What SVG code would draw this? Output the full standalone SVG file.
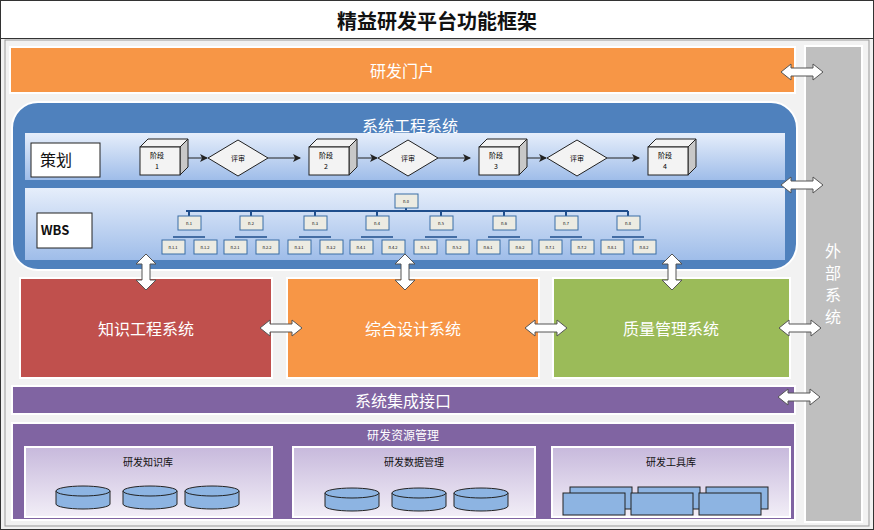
<svg xmlns="http://www.w3.org/2000/svg" width="874" height="530" viewBox="0 0 874 530">
<defs>
<style>
text{font-family:"Noto Sans CJK SC","Liberation Sans",sans-serif;text-anchor:middle;dominant-baseline:central}
.w{fill:#fff}
.cube{fill:#f3f3f3;stroke:#222;stroke-width:1}
.cubes{fill:#c8c8c8;stroke:#222;stroke-width:1}
.wb{fill:#ecebe2;stroke:#3a6ea5;stroke-width:1}
.wl{stroke:#1f4e8c;stroke-width:2;fill:none}
.ln{stroke:#222;stroke-width:1;fill:none}
.arr{fill:#fff;stroke:#555;stroke-width:1}
.cyl{fill:#8db4e2;stroke:#222;stroke-width:1}
</style>
<linearGradient id="band" x1="0" y1="0" x2="0" y2="1"><stop offset="0" stop-color="#e6eefb"/><stop offset="1" stop-color="#9fbde9"/></linearGradient>
<linearGradient id="sub" x1="0" y1="0" x2="0" y2="1"><stop offset="0" stop-color="#c7b9dc"/><stop offset="1" stop-color="#f2eef7"/></linearGradient>
<marker id="ah" markerWidth="8" markerHeight="8" refX="7" refY="4" orient="auto"><path d="M0,0 L8,4 L0,8 L2,4z" fill="#222"/></marker>
<path id="hArr" d="M0,0 L10,-8 L10,-4 L32,-4 L32,-8 L42,0 L32,8 L32,4 L10,4 L10,8z"/>
<path id="vArr" d="M0,0 L-10,10 L-4,10 L-4,26 L-10,26 L0,36 L10,26 L4,26 L4,10 L10,10z"/>
</defs>
<rect x="0.5" y="0.5" width="873" height="529" fill="#f2f2f2" stroke="#333"/>
<rect x="0.5" y="0.5" width="873" height="38" fill="#fff" stroke="#333"/>
<text x="437" y="20" font-size="20" font-weight="bold" fill="#111">精益研发平台功能框架</text>
<rect x="5" y="40" width="864" height="486" fill="#f2f2f2" stroke="#999"/>

<g id="portal"><rect x="10" y="47" width="785" height="46" fill="#f79646" stroke="#fff" stroke-width="2"/><text x="402" y="70" font-size="16" class="w">研发门户</text></g>
<g id="external"><rect x="805" y="46" width="57" height="476" fill="#bfbfbf" stroke="#fff" stroke-width="2"/><text x="833" y="250" font-size="16" class="w">外</text><text x="833" y="272" font-size="16" class="w">部</text><text x="833" y="294" font-size="16" class="w">系</text><text x="833" y="316" font-size="16" class="w">统</text></g>

<g id="syseng"><rect x="12" y="102" width="785" height="168" rx="26" fill="#4f81bd" stroke="#fff" stroke-width="2"/><text x="410" y="125" font-size="16" class="w">系统工程系统</text></g>
<g id="plan">
<rect x="25" y="133" width="760" height="47" fill="url(#band)"/>
<rect x="31" y="143" width="69" height="34" fill="#fff" stroke="#222"/><text x="56" y="159" font-size="16" fill="#111">策划</text>
</g>
<g id="stages" font-size="7">
<g><path class="cubes" d="M180,147 L188,139 L188,167 L180,175z"/><path class="cube" d="M140,147 L148,139 L188,139 L180,147z"/><rect class="cube" x="140" y="147" width="40" height="28"/><text x="157" y="155" font-size="7">阶段</text><text x="157" y="166" font-size="7">1</text></g>
<g><path class="cubes" d="M349,147 L357,139 L357,167 L349,175z"/><path class="cube" d="M309,147 L317,139 L357,139 L349,147z"/><rect class="cube" x="309" y="147" width="40" height="28"/><text x="326" y="155" font-size="7">阶段</text><text x="326" y="166" font-size="7">2</text></g>
<g><path class="cubes" d="M519,147 L527,139 L527,167 L519,175z"/><path class="cube" d="M479,147 L487,139 L527,139 L519,147z"/><rect class="cube" x="479" y="147" width="40" height="28"/><text x="496" y="155" font-size="7">阶段</text><text x="496" y="166" font-size="7">3</text></g>
<g><path class="cubes" d="M688,147 L696,139 L696,167 L688,175z"/><path class="cube" d="M648,147 L656,139 L696,139 L688,147z"/><rect class="cube" x="648" y="147" width="40" height="28"/><text x="665" y="155" font-size="7">阶段</text><text x="665" y="166" font-size="7">4</text></g>
<g><path class="cube" d="M208,158 L238,140 L268,158 L238,176z"/><text x="238" y="158" font-size="7">评审</text></g>
<g><path class="cube" d="M378,158 L408,140 L438,158 L408,176z"/><text x="408" y="158" font-size="7">评审</text></g>
<g><path class="cube" d="M547,158 L577,140 L607,158 L577,176z"/><text x="577" y="158" font-size="7">评审</text></g>
</g>
<g id="plan-links">
<line class="ln" x1="188" y1="158" x2="207" y2="158" marker-end="url(#ah)"/>
<line class="ln" x1="268" y1="158" x2="300" y2="158" marker-end="url(#ah)"/>
<line class="ln" x1="358" y1="158" x2="377" y2="158" marker-end="url(#ah)"/>
<line class="ln" x1="438" y1="158" x2="470" y2="158" marker-end="url(#ah)"/>
<line class="ln" x1="527" y1="158" x2="546" y2="158" marker-end="url(#ah)"/>
<line class="ln" x1="607" y1="158" x2="639" y2="158" marker-end="url(#ah)"/>
</g>
<g id="wbs">
<rect x="25" y="188" width="760" height="72" fill="url(#band)"/>
<rect x="37" y="213" width="55" height="35" fill="#fff" stroke="#222"/><text x="55" y="229" font-size="13" font-weight="bold" font-family="Liberation Sans,sans-serif" fill="#111">WBS</text>
<g class="wl"><line x1="406" y1="208" x2="406" y2="211"/><line x1="186" y1="211" x2="628" y2="211"/>
<path d="M189,211v5M251,211v5M315,211v5M377,211v5M441,211v5M504,211v5M566,211v5M628,211v5"/>
<path d="M173,237h32M235,237h32M299,237h32M361,237h32M425,237h32M488,237h32M550,237h32M612,237h32" stroke-width="1.5"/>
</g>
<g font-size="4">
<rect class="wb" x="395" y="194" width="23" height="14"/><text x="406" y="201">n.0</text>
</g>
<g font-size="4" id="wbs-l1">
<rect class="wb" x="178" y="216" width="23" height="14"/><text x="189" y="223">n.1</text>
<rect class="wb" x="240" y="216" width="23" height="14"/><text x="251" y="223">n.2</text>
<rect class="wb" x="304" y="216" width="23" height="14"/><text x="315" y="223">n.3</text>
<rect class="wb" x="366" y="216" width="23" height="14"/><text x="377" y="223">n.4</text>
<rect class="wb" x="430" y="216" width="23" height="14"/><text x="441" y="223">n.5</text>
<rect class="wb" x="493" y="216" width="23" height="14"/><text x="504" y="223">n.6</text>
<rect class="wb" x="555" y="216" width="23" height="14"/><text x="566" y="223">n.7</text>
<rect class="wb" x="617" y="216" width="23" height="14"/><text x="628" y="223">n.8</text>
</g>
<g font-size="4" id="wbs-l2">
<rect class="wb" x="162" y="240" width="23" height="14"/><text x="173" y="247">n.1.1</text>
<rect class="wb" x="194" y="240" width="23" height="14"/><text x="205" y="247">n.1.2</text>
<rect class="wb" x="224" y="240" width="23" height="14"/><text x="235" y="247">n.2.1</text>
<rect class="wb" x="256" y="240" width="23" height="14"/><text x="267" y="247">n.2.2</text>
<rect class="wb" x="288" y="240" width="23" height="14"/><text x="299" y="247">n.3.1</text>
<rect class="wb" x="320" y="240" width="23" height="14"/><text x="331" y="247">n.3.2</text>
<rect class="wb" x="350" y="240" width="23" height="14"/><text x="361" y="247">n.4.1</text>
<rect class="wb" x="382" y="240" width="23" height="14"/><text x="393" y="247">n.4.2</text>
<rect class="wb" x="414" y="240" width="23" height="14"/><text x="425" y="247">n.5.1</text>
<rect class="wb" x="446" y="240" width="23" height="14"/><text x="457" y="247">n.5.2</text>
<rect class="wb" x="477" y="240" width="23" height="14"/><text x="488" y="247">n.6.1</text>
<rect class="wb" x="509" y="240" width="23" height="14"/><text x="520" y="247">n.6.2</text>
<rect class="wb" x="539" y="240" width="23" height="14"/><text x="550" y="247">n.7.1</text>
<rect class="wb" x="571" y="240" width="23" height="14"/><text x="582" y="247">n.7.2</text>
<rect class="wb" x="601" y="240" width="23" height="14"/><text x="612" y="247">n.8.1</text>
<rect class="wb" x="633" y="240" width="23" height="14"/><text x="644" y="247">n.8.2</text>
</g>
</g>

<g id="knowledge"><rect x="20" y="278" width="252" height="100" fill="#c0504d" stroke="#fff" stroke-width="2"/><text x="146" y="328" font-size="16" class="w">知识工程系统</text></g>
<g id="design"><rect x="287" y="278" width="252" height="100" fill="#f79646" stroke="#fff" stroke-width="2"/><text x="413" y="328" font-size="16" class="w">综合设计系统</text></g>
<g id="quality"><rect x="553" y="278" width="237" height="100" fill="#9bbb59" stroke="#fff" stroke-width="2"/><text x="671" y="328" font-size="16" class="w">质量管理系统</text></g>

<g id="integration"><rect x="12" y="386" width="783" height="28" fill="#8064a2" stroke="#fff" stroke-width="2"/><text x="403" y="400" font-size="16" class="w">系统集成接口</text></g>
<g id="resources"><rect x="12" y="423" width="783" height="97" fill="#8064a2" stroke="#fff" stroke-width="2"/><text x="403" y="434" font-size="12" class="w">研发资源管理</text>
<rect x="25" y="447" width="247" height="70" fill="url(#sub)" stroke="#fff" stroke-width="2"/><text x="148" y="461" font-size="10" fill="#111">研发知识库</text>
<rect x="293" y="447" width="242" height="70" fill="url(#sub)" stroke="#fff" stroke-width="2"/><text x="414" y="461" font-size="10" fill="#111">研发数据管理</text>
<rect x="552" y="447" width="238" height="70" fill="url(#sub)" stroke="#fff" stroke-width="2"/><text x="671" y="461" font-size="10" fill="#111">研发工具库</text>
<g id="cyls">
<path class="cyl" d="M56,491 v13 a27,5 0 0 0 54,0 v-13"/><ellipse class="cyl" cx="83" cy="491" rx="27" ry="5"/>
<path class="cyl" d="M123,491 v13 a27,5 0 0 0 54,0 v-13"/><ellipse class="cyl" cx="150" cy="491" rx="27" ry="5"/>
<path class="cyl" d="M185,491 v13 a27,5 0 0 0 54,0 v-13"/><ellipse class="cyl" cx="212" cy="491" rx="27" ry="5"/>
<path class="cyl" d="M325,493 v13 a27,5 0 0 0 54,0 v-13"/><ellipse class="cyl" cx="352" cy="493" rx="27" ry="5"/>
<path class="cyl" d="M392,493 v13 a27,5 0 0 0 54,0 v-13"/><ellipse class="cyl" cx="419" cy="493" rx="27" ry="5"/>
<path class="cyl" d="M454,493 v13 a27,5 0 0 0 54,0 v-13"/><ellipse class="cyl" cx="481" cy="493" rx="27" ry="5"/>
</g>
<g id="tools">
<rect class="cyl" x="570" y="487" width="62" height="22"/><rect class="cyl" x="638" y="487" width="62" height="22"/><rect class="cyl" x="706" y="487" width="62" height="22"/>
<rect class="cyl" x="563" y="493" width="62" height="22"/><rect class="cyl" x="631" y="493" width="62" height="22"/><rect class="cyl" x="699" y="493" width="62" height="22"/>
</g>
</g>

<g id="connectors">
<use href="#hArr" x="781" y="72" class="arr"/>
<use href="#hArr" x="781" y="185" class="arr"/>
<use href="#hArr" x="779" y="328" class="arr"/>
<use href="#hArr" x="778" y="397" class="arr"/>
<use href="#hArr" x="260" y="328" class="arr"/>
<use href="#hArr" x="525" y="328" class="arr"/>
<use href="#vArr" x="146" y="254" class="arr"/>
<use href="#vArr" x="405" y="254" class="arr"/>
<use href="#vArr" x="672" y="254" class="arr"/>
</g>
</svg>
